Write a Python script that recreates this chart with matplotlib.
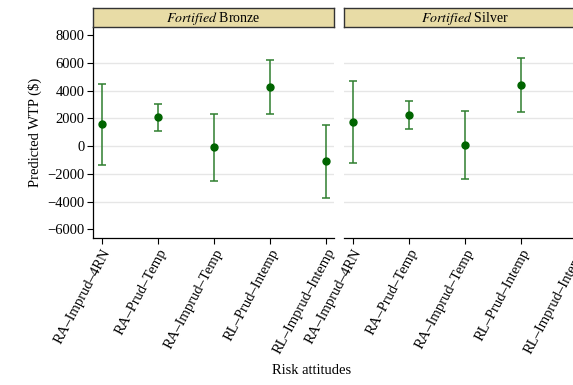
import matplotlib.pyplot as plt
import numpy as np

plt.rcParams['font.family'] = ['Liberation Serif', 'DejaVu Serif']
plt.rcParams['mathtext.fontset'] = 'stix'

# Risk attitude categories
categories = ["RA–Imprud–4RN", "RA–Prud–Temp", "RA–Imprud–Temp",
              "RL–Prud–Intemp", "RL–Imprud–Intemp"]
panels = ["Bronze", "Silver"]

# Predicted WTP and 95% CI per panel
bronze_mean = [1560, 2070, -70, 4260, -1100]
bronze_low = [-1370, 1080, -2500, 2330, -3730]
bronze_high = [4500, 3050, 2330, 6180, 1510]

silver_mean = [1710, 2210, 70, 4420, -900]
silver_low = [-1230, 1200, -2360, 2480, -3500]
silver_high = [4660, 3220, 2500, 6350, 1700]

means = [bronze_mean, silver_mean]
lows = [bronze_low, silver_low]
highs = [bronze_high, silver_high]

yticks = [-6000, -4000, -2000, 0, 2000, 4000, 6000, 8000]

W, H = 573, 385
fig = plt.figure(figsize=(W / 100, H / 100), dpi=100)

panel_left = [93, 344]
pw = 241
ax_top, ax_bot = 27, 238
strip_top = 8

x = np.arange(len(categories))
for i, name in enumerate(panels):
    ax = fig.add_axes([panel_left[i] / W, (H - ax_bot) / H, pw / W, (ax_bot - ax_top) / H])
    m = np.array(means[i])
    lo = np.array(lows[i])
    hi = np.array(highs[i])
    ax.errorbar(x, m, yerr=[m - lo, hi - m], fmt='none', ecolor='#2f7f2f',
                elinewidth=1.1, capsize=3, capthick=1.1, zorder=3)
    ax.plot(x, m, 'o', color='#006400', markersize=5, zorder=4)
    for v in yticks[1:-1]:
        ax.axhline(v, color='#e6e6e6', lw=1, zorder=0)
    ax.set_xlim(-0.16, 4.14)
    ax.set_ylim(-6630, 8580)
    ax.set_xticks(x)
    ax.set_xticklabels(categories, rotation=62, ha='right', rotation_mode='anchor',
                       fontsize=10.5)
    ax.tick_params(axis='x', length=4, width=0.8, pad=2)
    ax.spines['top'].set_visible(False)
    ax.spines['right'].set_visible(False)
    ax.spines['bottom'].set_linewidth(0.9)
    if i == 0:
        ax.set_yticks(yticks)
        ax.set_yticklabels([f"{v}".replace('-', '−') for v in yticks], fontsize=10.5)
        ax.tick_params(axis='y', length=4, width=0.8, pad=2)
        ax.spines['left'].set_linewidth(0.9)
        ax.set_ylabel("Predicted WTP ($)", fontsize=10.5, labelpad=4)
    else:
        ax.set_yticks([])
        ax.spines['left'].set_visible(False)

    sax = fig.add_axes([panel_left[i] / W, (H - ax_top) / H, pw / W, (ax_top - strip_top) / H])
    sax.set_facecolor('#e8dca6')
    sax.set_xticks([])
    sax.set_yticks([])
    for s in sax.spines.values():
        s.set_linewidth(1.0)
        s.set_color('#333333')
    sax.text(0.5, 0.45, r"$\it{Fortified}$ " + name, ha='center', va='center',
             fontsize=10, transform=sax.transAxes)

fig.text(312 / W, (H - 370) / H, "Risk attitudes", ha='center', va='center',
         fontsize=10.5)

fig.savefig("out.png", dpi=100)
